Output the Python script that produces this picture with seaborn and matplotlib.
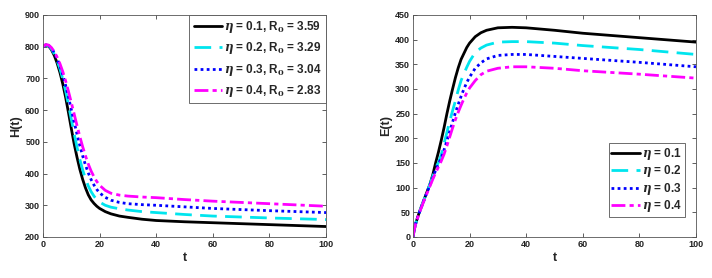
import matplotlib
matplotlib.use("Agg")
import matplotlib.pyplot as plt
import numpy as np
import pandas as pd
import seaborn as sns

# values
ETA = ["0.1", "0.2", "0.3", "0.4"]
R0 = ["3.59", "3.29", "3.04", "2.83"]

H_T = [0, 1, 2, 3, 4, 5, 6, 7, 8, 9, 10, 11, 12, 13, 14, 15, 16, 17, 18, 19, 20,
       22, 24, 27, 30, 35, 40, 50, 60, 80, 100]
H_VAL = {
    "0.1": [800, 806, 802, 790, 772, 748, 718, 682, 640, 592, 542, 494, 452, 414, 382,
            355, 333, 317, 306, 297, 290, 280, 273, 266, 262, 256, 252, 248, 245, 239, 233],
    "0.2": [800, 806, 803, 793, 777, 756, 730, 698, 660, 617, 571, 526, 484, 445, 412,
            384, 361, 343, 329, 318, 310, 300, 294, 289, 285, 280, 277, 271, 266, 260, 255],
    "0.3": [800, 806, 804, 795, 781, 762, 739, 711, 678, 641, 602, 563, 525, 489, 456,
            427, 402, 381, 364, 350, 339, 325, 316, 309, 305, 302, 300, 295, 290, 283, 277],
    "0.4": [800, 807, 805, 797, 784, 767, 746, 721, 692, 659, 624, 588, 552, 517, 485,
            456, 430, 408, 390, 375, 363, 347, 338, 332, 329, 326, 324, 318, 313, 305, 297],
}

E_T = [0, 0.5, 1, 2, 3, 4, 5, 6, 7, 8, 9, 10, 11, 12, 13, 14, 15, 16, 17, 18, 19, 20,
       22, 24, 26, 30, 35, 40, 50, 60, 80, 100]
E_VAL = {
    "0.1": [0, 16, 28, 46, 62, 77, 92, 107, 126, 150, 172, 196, 222, 250, 276, 300, 323,
            343, 360, 372, 384, 393, 406, 414, 419, 424, 425, 424, 419, 413, 404, 395],
    "0.2": [0, 16, 28, 46, 62, 77, 92, 107, 123, 140, 151, 167, 190, 212, 235, 256, 276,
            298, 317, 331, 344, 356, 374, 383, 389, 395, 396, 396, 393, 388, 380, 370],
    "0.3": [0, 16, 28, 46, 61, 76, 91, 105, 120, 135, 148, 160, 177, 195, 214, 233, 252,
            269, 285, 300, 313, 324, 342, 353, 361, 368, 370, 370, 366, 362, 354, 345],
    "0.4": [0, 15, 27, 45, 60, 75, 89, 103, 117, 130, 142, 154, 168, 185, 203, 221, 238,
            253, 267, 280, 292, 302, 317, 329, 336, 342, 345, 345, 342, 337, 330, 322],
}

COLORS = ["black", "#00e5ee", "#0000ff", "#ff00ff"]
STYLES = ["-", (0, (6, 3)), (0, (1, 1.2)), (0, (5, 1.5, 1.5, 1.5))]

sns.set_theme(style="ticks")
plt.rcParams["font.family"] = ["Liberation Sans", "DejaVu Sans"]
plt.rcParams["font.weight"] = "bold"
plt.rcParams["mathtext.fontset"] = "dejavuserif"

fig = plt.figure(figsize=(7.12, 2.78), dpi=100)
ax1 = fig.add_axes([0.0604, 0.1475, 0.3975, 0.7986])
ax2 = fig.add_axes([0.580, 0.1475, 0.3975, 0.7986])

for i, eta in enumerate(ETA):
    df = pd.DataFrame({"t": H_T, "v": H_VAL[eta]})
    sns.lineplot(data=df, x="t", y="v", ax=ax1, color=COLORS[i], linestyle=STYLES[i],
                 linewidth=2, label=rf"$\eta$ = {eta}, R$_\mathbf{{0}}$ = {R0[i]}")
    df = pd.DataFrame({"t": E_T, "v": E_VAL[eta]})
    sns.lineplot(data=df, x="t", y="v", ax=ax2, color=COLORS[i], linestyle=STYLES[i],
                 linewidth=2, label=rf"$\eta$ = {eta}")

for ax, ylim, yticks, ylab in [
    (ax1, (200, 900), np.arange(200, 901, 100), "H(t)"),
    (ax2, (0, 450), np.arange(0, 451, 50), "E(t)"),
]:
    ax.set_xlim(0, 100)
    ax.set_ylim(*ylim)
    ax.set_xticks(np.arange(0, 101, 20))
    ax.set_yticks(yticks)
    ax.set_xlabel("t", fontsize=9, fontweight="bold", labelpad=2)
    ax.set_ylabel(ylab, fontsize=9, fontweight="bold", labelpad=2)
    ax.tick_params(direction="in", top=True, right=True, labelsize=6.5, length=3,
                   width=0.6, color="#444444", pad=2)
    for lab in ax.get_xticklabels() + ax.get_yticklabels():
        lab.set_fontweight("bold")
        lab.set_color("#222222")
    for s in ax.spines.values():
        s.set_linewidth(0.6)
        s.set_color("#555555")

leg1 = ax1.legend(loc="upper right", borderaxespad=0, fontsize=8.5, handlelength=2.4,
                  handletextpad=0.2, labelspacing=0.45, fancybox=False,
                  edgecolor="#555555", framealpha=1, borderpad=0.35)
leg2 = ax2.legend(loc="lower right", bbox_to_anchor=(0.962, 0.09), borderaxespad=0,
                  fontsize=8.5, handlelength=2.4, handletextpad=0.2, labelspacing=0.12,
                  fancybox=False, edgecolor="#555555", framealpha=1, borderpad=0.25)
for leg in (leg1, leg2):
    leg.get_frame().set_linewidth(0.6)
    for txt in leg.get_texts():
        txt.set_fontweight("bold")

fig.savefig("out.png", dpi=100)
